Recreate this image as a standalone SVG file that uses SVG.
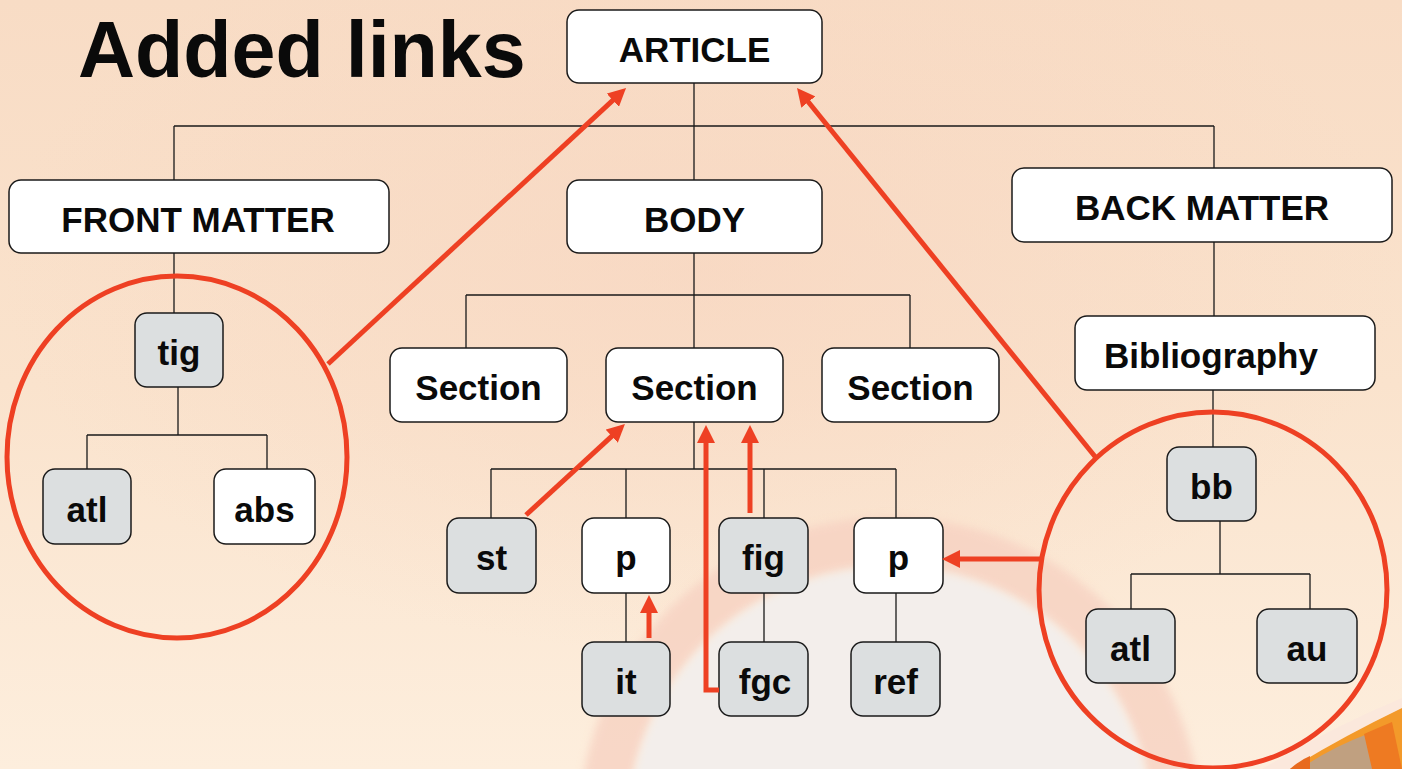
<svg xmlns="http://www.w3.org/2000/svg" width="1402" height="769" viewBox="0 0 1402 769">
<defs>
<linearGradient id="bg" x1="0" y1="0" x2="0" y2="1">
<stop offset="0" stop-color="#f8dcc5"/>
<stop offset="0.5" stop-color="#fae3cd"/>
<stop offset="1" stop-color="#fdeedd"/>
</linearGradient>
<radialGradient id="glow" cx="0.5" cy="0.35" r="0.5">
<stop offset="0" stop-color="#f7d4bf" stop-opacity="0.6"/>
<stop offset="1" stop-color="#f7d4bf" stop-opacity="0"/>
</radialGradient>
<filter id="soft" x="-10%" y="-10%" width="120%" height="120%"><feGaussianBlur stdDeviation="4"/></filter>
<marker id="ah" viewBox="0 0 18 18" refX="8" refY="9" markerWidth="18" markerHeight="18" markerUnits="userSpaceOnUse" orient="auto">
<path d="M0,0 L18,9 L0,18 z" fill="#ee4023"/>
</marker>
<style>
.box{stroke:#1a1a1a;stroke-width:1.5;fill:#ffffff}
.grey{fill:#dcdfe0}
.t{font-family:"Liberation Sans",Arial,sans-serif;font-weight:bold;font-size:35px;fill:#0a0a0a;text-anchor:middle}
.c{stroke:#1a1a1a;stroke-width:1.3;fill:none}
.r{stroke:#ee4023;stroke-width:5;fill:none}
.ra{stroke:#ee4023;stroke-width:5;fill:none;marker-end:url(#ah)}
</style>
</defs>
<g id="background">
<rect width="1402" height="769" fill="url(#bg)"/>
<rect width="1402" height="769" fill="url(#glow)"/>
<circle cx="890" cy="828" r="286" fill="none" stroke="#f7d2c2" stroke-width="50" opacity="0.8" filter="url(#soft)"/>
<circle cx="890" cy="828" r="261" fill="#f3eeeb" filter="url(#soft)"/>
<path d="M1285,769 Q1340,730 1402,700 L1402,769 Z" fill="#f39a2a"/>
<path d="M1262,769 Q1330,728 1402,698 L1402,708 Q1340,738 1290,769 Z" fill="#fbe8dc"/>
<path d="M1300,769 Q1330,748 1370,733 L1380,769 Z" fill="#c0a080"/>
<path d="M1290,769 Q1300,760 1310,756 L1310,769 Z" fill="#e86a1e"/>
<path d="M1372,769 L1364,734 Q1380,727 1392,722 L1402,769 Z" fill="#ee7a22"/>
</g>
<text x="78" y="77" font-family="'Liberation Sans',Arial,sans-serif" font-weight="bold" font-size="79" fill="#0a0a0a">Added links</text>
<g id="connectors">
<path class="c" d="M694,83 V180 M174,126 H1214 M174,126 V180 M1214,126 V168"/>
<path class="c" d="M174,253 V313 M178,387 V435 M87,435 H267 M87,435 V469 M267,435 V469"/>
<path class="c" d="M694,253 V348 M466,295 H910 M466,295 V348 M910,295 V348"/>
<path class="c" d="M694,422 V469 M491,469 H896 M491,469 V518 M626,469 V518 M764,469 V518 M896,469 V518"/>
<path class="c" d="M626,593 V642 M764,593 V642 M896,593 V642"/>
<path class="c" d="M1214,242 V316 M1213,390 V447 M1220,521 V574 M1131,574 H1310 M1131,574 V609 M1310,574 V609"/>
</g>
<g id="n-article"><rect class="box" x="567" y="10" width="255" height="73" rx="12"/><text class="t" x="694.5" y="62">ARTICLE</text></g>
<g id="n-front"><rect class="box" x="9" y="180" width="380" height="73" rx="12"/><text class="t" x="198" y="232">FRONT MATTER</text></g>
<g id="n-body"><rect class="box" x="567" y="180" width="255" height="73" rx="12"/><text class="t" x="694.5" y="232">BODY</text></g>
<g id="n-back"><rect class="box" x="1012" y="168" width="380" height="74" rx="12"/><text class="t" x="1202" y="220">BACK MATTER</text></g>
<g id="n-bib"><rect class="box" x="1075" y="316" width="300" height="74" rx="12"/><text class="t" x="1211" y="368">Bibliography</text></g>
<g id="n-sec1"><rect class="box" x="390" y="348" width="177" height="74" rx="12"/><text class="t" x="478.5" y="400">Section</text></g>
<g id="n-sec2"><rect class="box" x="606" y="348" width="177" height="74" rx="12"/><text class="t" x="694.5" y="400">Section</text></g>
<g id="n-sec3"><rect class="box" x="822" y="348" width="177" height="74" rx="12"/><text class="t" x="910.5" y="400">Section</text></g>
<g id="n-tig"><rect class="box grey" x="135" y="313" width="88" height="74" rx="12"/><text class="t" x="179" y="365">tig</text></g>
<g id="n-atl1"><rect class="box grey" x="43" y="469" width="88" height="75" rx="12"/><text class="t" x="87" y="522">atl</text></g>
<g id="n-abs"><rect class="box" x="214" y="469" width="101" height="75" rx="12"/><text class="t" x="264.5" y="522">abs</text></g>
<g id="n-st"><rect class="box grey" x="447" y="518" width="89" height="75" rx="12"/><text class="t" x="491.5" y="570">st</text></g>
<g id="n-p1"><rect class="box" x="582" y="518" width="88" height="75" rx="12"/><text class="t" x="626" y="570">p</text></g>
<g id="n-fig"><rect class="box grey" x="719" y="518" width="89" height="75" rx="12"/><text class="t" x="763.5" y="570">fig</text></g>
<g id="n-p2"><rect class="box" x="854" y="518" width="89" height="75" rx="12"/><text class="t" x="898.5" y="570">p</text></g>
<g id="n-it"><rect class="box grey" x="582" y="642" width="88" height="74" rx="12"/><text class="t" x="626" y="694">it</text></g>
<g id="n-fgc"><rect class="box grey" x="719" y="642" width="89" height="74" rx="12"/><text class="t" x="765" y="694">fgc</text></g>
<g id="n-ref"><rect class="box grey" x="851" y="642" width="89" height="74" rx="12"/><text class="t" x="895.5" y="694">ref</text></g>
<g id="n-bb"><rect class="box grey" x="1167" y="447" width="89" height="74" rx="12"/><text class="t" x="1211.5" y="499">bb</text></g>
<g id="n-atl2"><rect class="box grey" x="1086" y="609" width="89" height="74" rx="12"/><text class="t" x="1130.5" y="661">atl</text></g>
<g id="n-au"><rect class="box grey" x="1257" y="609" width="100" height="74" rx="12"/><text class="t" x="1307" y="661">au</text></g>
<g id="added-links">
<ellipse class="r" cx="177" cy="457" rx="170" ry="181"/>
<ellipse class="r" cx="1213" cy="590" rx="174" ry="178"/>
<path class="ra" d="M328,364 L618.7,94.8"/>
<path class="ra" d="M1097,459 L803.3,95.8"/>
<path class="ra" d="M526,515 L617.6,430.8"/>
<path class="ra" d="M750,513 L750,435"/>
<path class="ra" d="M719,690 H706 V435"/>
<path class="ra" d="M649,638 L649,605"/>
<path class="ra" d="M1041,559 L952,559"/>
</g>
</svg>
